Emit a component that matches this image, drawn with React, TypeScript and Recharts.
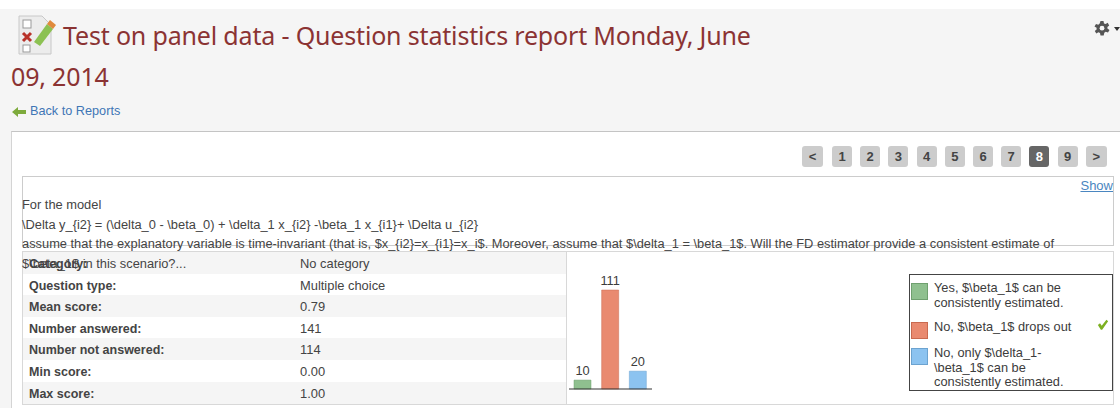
import { BarChart, Bar, XAxis, YAxis, Cell, LabelList, Legend } from 'recharts';

const answers = ['Yes', 'No, drops out', 'No, only'];
const counts = [10, 111, 20];
const legendLines = [
  ['Yes, $\\beta_1$ can be', 'consistently estimated.'],
  ['No, $\\beta_1$ drops out'],
  ['No, only $\\delta_1-', '\\beta_1$ can be', 'consistently estimated.'],
];
const statLabels = ['Category:', 'Question type:', 'Mean score:', 'Number answered:', 'Number not answered:', 'Min score:', 'Max score:'];
const statValues = ['No category', 'Multiple choice', '0.79', '141', '114', '0.00', '1.00'];
const pages = ['<', '1', '2', '3', '4', '5', '6', '7', '8', '9', '>'];
const questionLines = [
  'For the model',
  '\\Delta y_{i2} = (\\delta_0 - \\beta_0) + \\delta_1 x_{i2} -\\beta_1 x_{i1}+ \\Delta u_{i2}',
  'assume that the explanatory variable is time-invariant (that is, $x_{i2}=x_{i1}=x_i$. Moreover, assume that $\\delta_1 = \\beta_1$. Will the FD estimator provide a consistent estimate of',
  '$\\beta_1$ in this scenario?...',
];

const BAR_COLORS = ['#8FC08F', '#E98A70', '#8CC3F0'];
const BAR_EDGES = ['#6FA06F', '#C96A50', '#6CA3D0'];
const SANS = '"Liberation Sans", Arial, sans-serif';
const TEXT = '#3C3C3C';

const chartData = answers.map((name, i) => ({ name, count: counts[i] }));

function LegendBox() {
  const tops = [6, 45, 71];
  return (
    <div style={s.legend}>
      {legendLines.map((lines, i) => (
        <div key={i}>
          <div
            style={{
              position: 'absolute',
              left: 1,
              top: tops[i] + 2,
              width: 15,
              height: 15,
              background: BAR_COLORS[i],
              border: `1px solid ${BAR_EDGES[i]}`,
            }}
          />
          <div style={{ position: 'absolute', left: 24, top: tops[i], lineHeight: '14.5px', whiteSpace: 'nowrap' }}>
            {lines.map((l) => (
              <div key={l}>{l}</div>
            ))}
          </div>
        </div>
      ))}
      <svg width="12" height="12" viewBox="0 0 14 14" style={{ position: 'absolute', left: 187, top: 44 }}>
        <path d="M1 7 L3.5 5 L5.5 8 L11 1 L13 2.5 L6 12.5 L4.5 12.5 Z" fill="#7DB021" />
      </svg>
    </div>
  );
}

export default function App() {
  return (
    <div style={s.page}>
      <div style={s.header} />
      <svg width="42" height="44" viewBox="0 0 42 44" style={{ position: 'absolute', left: 16, top: 14 }}>
        <path d="M3 2 H26 L35 11 V40 H3 Z" fill="#ECECEC" stroke="#C8C8C8" />
        <rect x="7" y="6" width="8" height="8" fill="#fff" stroke="#999" />
        <path d="M7 19 L15 27 M15 19 L7 27" stroke="#B8322A" strokeWidth="3" />
        <rect x="7" y="31" width="7" height="7" fill="#fff" stroke="#999" />
        <path d="M18 28 L31 10 L37 15 L24 32 Z" fill="#8CC152" />
        <path d="M31 10 L34 6 L40 11 L37 15 Z" fill="#E08A3C" />
      </svg>
      <div style={{ ...s.title, left: 63, top: 17 }}>Test on panel data - Question statistics report Monday, June</div>
      <div style={{ ...s.title, left: 11, top: 58 }}>09, 2014</div>
      <svg width="14" height="10" viewBox="0 0 14 10" style={{ position: 'absolute', left: 12, top: 107 }}>
        <path d="M0 5 L6 0 V3 H14 V7 H6 V10 Z" fill="#7DAA3C" />
      </svg>
      <div style={s.back}>Back to Reports</div>
      <svg width="16" height="16" viewBox="0 0 16 16" style={{ position: 'absolute', left: 1094, top: 21 }}>
        <path
          d="M6.5 0 H9.5 L10 2.4 L11.6 3.1 L13.7 1.8 L15.2 4.4 L13.4 5.9 V7.6 L15.5 8.9 L14 11.5 L11.7 10.7 L10.3 11.8 L9.7 14.5 H6.5 L6 12 L4.4 11.3 L2.3 12.6 L0.8 10 L2.6 8.5 V6.8 L0.5 5.5 L2 2.9 L4.3 3.7 L5.7 2.6 Z"
          fill="#555"
        />
        <circle cx="8" cy="7.2" r="2.4" fill="#F5F5F5" />
      </svg>
      <svg width="6" height="4" style={{ position: 'absolute', left: 1114, top: 27 }}>
        <path d="M0 0 H6 L3 4 Z" fill="#333" />
      </svg>

      <div style={s.panel} />
      {pages.map((p, i) => (
        <div key={p} style={{ ...s.pageBtn, left: i === 0 ? 802 : 832 + (i - 1) * 28.2, width: i === 0 || i === 10 ? 21 : 20, ...(p === '8' ? s.pageBtnOn : {}) }}>
          {p}
        </div>
      ))}

      <div style={s.questionBox} />
      <div style={s.show}>Show</div>

      <div style={s.statsBox}>
        {statLabels.map((label, i) => (
          <div key={label} style={{ ...s.statRow, top: i * 21.6, background: i % 2 === 0 ? '#F5F5F5' : '#FFFFFF' }}>
            <span style={s.statLabel}>{label}</span>
            <span style={s.statValue}>{statValues[i]}</span>
          </div>
        ))}
      </div>
      <div style={s.chartCell} />

      {questionLines.map((line, i) => (
        <div key={i} style={{ ...s.questionLine, top: 197 + i * 19.5 }}>
          {line}
        </div>
      ))}

      <div style={{ position: 'absolute', left: 569, top: 252 }}>
        <BarChart width={545} height={150} data={chartData} margin={{ top: 38, right: 258, bottom: 12, left: 0 }}>
          <XAxis dataKey="name" tick={false} tickLine={false} height={1} axisLine={{ stroke: '#333', strokeWidth: 1.2 }} />
          <YAxis hide domain={[0, 111]} />
          <Bar dataKey="count" barSize={17} isAnimationActive={false}>
            {chartData.map((d, i) => (
              <Cell key={d.name} fill={BAR_COLORS[i]} stroke={BAR_EDGES[i]} strokeWidth={0.5} />
            ))}
            <LabelList dataKey="count" position="top" offset={5} fill={TEXT} fontSize={12.8} fontFamily={SANS} />
          </Bar>
          <Legend
            layout="vertical"
            align="right"
            verticalAlign="top"
            content={() => <LegendBox />}
            wrapperStyle={{ left: 340, top: 22, width: 204, height: 117 }}
          />
        </BarChart>
      </div>
    </div>
  );
}

const s: Record<string, React.CSSProperties> = {
  page: {
    position: 'absolute',
    left: 0,
    top: 0,
    width: 1120,
    height: 408,
    overflow: 'hidden',
    background: '#FFFFFF',
    fontFamily: SANS,
    color: TEXT,
  },
  header: { position: 'absolute', left: 0, top: 9, width: 1120, height: 399, background: '#F5F5F5' },
  title: {
    position: 'absolute',
    fontFamily: '"Noto Sans", sans-serif',
    fontSize: 25,
    lineHeight: '36px',
    letterSpacing: -0.17,
    color: '#8B3333',
    whiteSpace: 'nowrap',
  },
  back: { position: 'absolute', left: 30, top: 104, fontSize: 12.7, lineHeight: '14px', color: '#3F76B5' },
  panel: {
    position: 'absolute',
    left: 11,
    top: 131,
    width: 1109,
    height: 277,
    background: '#FFFFFF',
    borderTop: '1px solid #C4C4C4',
    borderLeft: '1px solid #D4D4D4',
    boxSizing: 'border-box',
  },
  pageBtn: {
    position: 'absolute',
    top: 146,
    height: 21,
    borderRadius: 3,
    background: '#CCCCCC',
    color: '#444',
    fontSize: 13,
    fontWeight: 700,
    lineHeight: '21px',
    textAlign: 'center',
  },
  pageBtnOn: { background: '#666666', color: '#FFFFFF' },
  questionBox: {
    position: 'absolute',
    left: 22,
    top: 176,
    width: 1092,
    height: 70,
    border: '1px solid #CCCCCC',
    boxSizing: 'border-box',
  },
  show: {
    position: 'absolute',
    right: 7,
    top: 179,
    fontSize: 13,
    lineHeight: '14px',
    color: '#4A86C0',
    textDecoration: 'underline',
  },
  questionLine: { position: 'absolute', left: 22, fontSize: 12.85, lineHeight: '16px', whiteSpace: 'nowrap', color: '#444' },
  statsBox: {
    position: 'absolute',
    left: 22,
    top: 251,
    width: 545,
    height: 154,
    border: '1px solid #D8D8D8',
    boxSizing: 'border-box',
    overflow: 'hidden',
  },
  statRow: { position: 'absolute', left: 0, width: 545, height: 22, fontSize: 12.9, lineHeight: '24px' },
  statLabel: { position: 'absolute', left: 6, fontWeight: 700, fontSize: 12.5, color: '#444' },
  statValue: { position: 'absolute', left: 277, color: '#444' },
  chartCell: {
    position: 'absolute',
    left: 566,
    top: 251,
    width: 548,
    height: 154,
    border: '1px solid #D8D8D8',
    boxSizing: 'border-box',
  },
  legend: {
    position: 'relative',
    width: 204,
    height: 117,
    boxSizing: 'border-box',
    border: '1px solid #444',
    background: '#FFFFFF',
    fontSize: 12.8,
    color: TEXT,
  },
};
